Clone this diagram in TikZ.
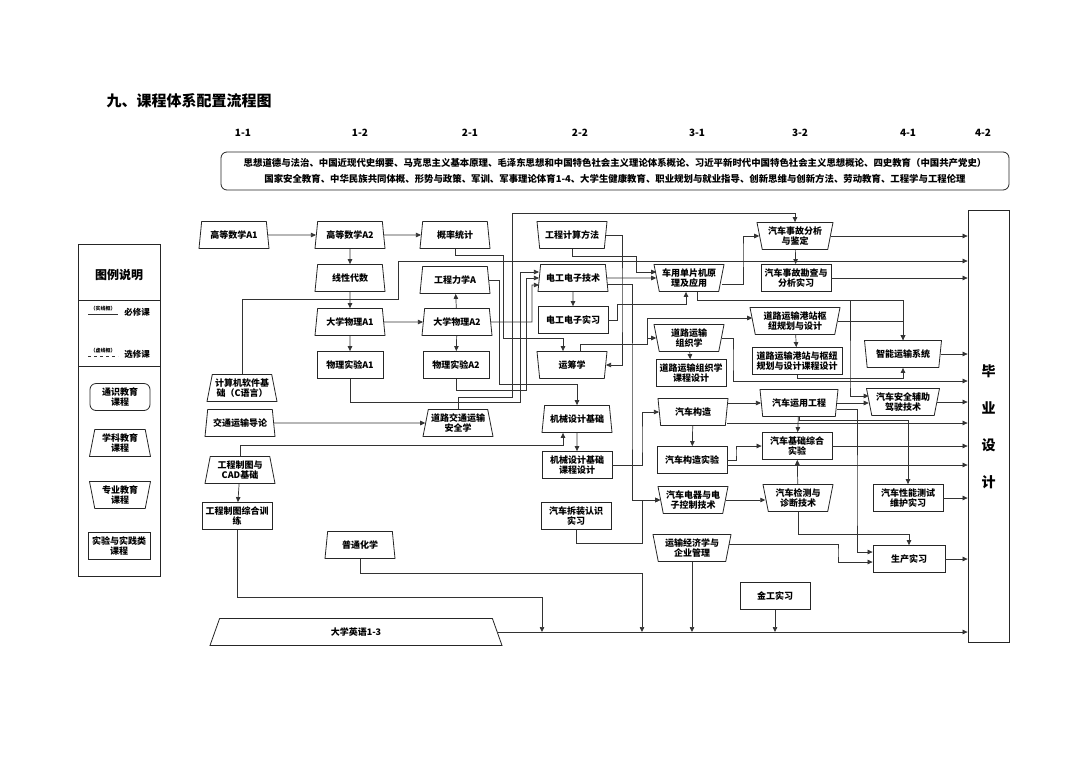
\documentclass[tikz,border=0pt]{standalone}
\usepackage{fontspec}
\setmainfont{Noto Sans CJK SC}
\usetikzlibrary{shapes.geometric,arrows.meta}

\tikzset{
  kc/.style={draw=black!85, line width=0.8pt, align=center, inner sep=1pt,
    font=\fontsize{9}{10.5}\selectfont\bfseries, minimum width=70pt, minimum height=27pt},
  xk/.style={kc, trapezium, trapezium left angle=76, trapezium right angle=76, trapezium stretches body},
  zy/.style={kc, trapezium, trapezium left angle=104, trapezium right angle=104, trapezium stretches body},
  sy/.style={kc, rectangle},
  lx/.style={draw=black!80, line width=0.7pt},
  jt/.style={lx, -{Triangle[length=5pt,width=4.5pt]}},
}

\begin{document}
\begin{tikzpicture}[x=1pt,y=-1pt]
  \fill[white] (0,0) rectangle (1080,756);
  \useasboundingbox (0,0) rectangle (1080,756);

  \node[anchor=west, font=\fontsize{15}{15}\selectfont\bfseries] (bt) at (103,101) {九、课程体系配置流程图};
  \foreach \x/\t [count=\i] in {243/1-1, 360/1-2, 470/2-1, 580/2-2, 697/3-1, 800/3-2, 908/4-1, 983/4-2}
    \node[font=\fontsize{10}{10}\selectfont\bfseries] (xq\i) at (\x,133) {\t};
  \node[draw=black!85, line width=0.8pt, rounded corners=6pt, minimum width=788pt, minimum height=38pt,
    align=center, font=\fontsize{9.4}{16}\selectfont\bfseries] (szk) at (615,171)
    {思想道德与法治、中国近现代史纲要、马克思主义基本原理、毛泽东思想和中国特色社会主义理论体系概论、习近平新时代中国特色社会主义思想概论、四史教育（中国共产党史）\\
     国家安全教育、中华民族共同体概、形势与政策、军训、军事理论体育1-4、大学生健康教育、职业规划与就业指导、创新思维与创新方法、劳动教育、工程学与工程伦理};

  % legend
  \draw[draw=black!85, line width=0.8pt] (78,244) rectangle (160,576);
  \draw[draw=black!85, line width=0.8pt] (78,300) -- (160,300) (78,366) -- (160,366);
  \node[font=\fontsize{12}{12}\selectfont\bfseries] (tl) at (119,275) {图例说明};
  \node[font=\fontsize{5}{5}\selectfont\bfseries] (sx) at (103,309) {（实线框）};
  \draw[lx] (88,314) -- (118,314);
  \node[font=\fontsize{8.5}{8.5}\selectfont\bfseries] (bx) at (137,312) {必修课};
  \node[font=\fontsize{5}{5}\selectfont\bfseries] (xx) at (103,351) {（虚线框）};
  \draw[lx, dashed] (88,356) -- (118,356);
  \node[font=\fontsize{8.5}{8.5}\selectfont\bfseries] (xu) at (137,354) {选修课};
  \node[kc, rectangle, rounded corners=6pt, minimum width=60pt] (tsjy) at (120,397) {通识教育\\课程};
  \node[xk, minimum width=61pt] (xkjy) at (120,443) {学科教育\\课程};
  \node[zy, minimum width=61pt] (zyjy) at (120,495) {专业教育\\课程};
  \node[sy, minimum width=62pt] (syjy) at (119,546) {实验与实践类\\课程};

  % courses
  \node[xk] (gsA1) at (234,235) {高等数学A1};
  \node[xk] (gsA2) at (350,235) {高等数学A2};
  \node[xk] (gltj) at (455,235) {概率统计};
  \node[xk] (xxds) at (350,278) {线性代数};
  \node[xk] (gclx) at (455,280) {工程力学A};
  \node[xk] (dwA1) at (350,322) {大学物理A1};
  \node[xk] (dwA2) at (457,322) {大学物理A2};
  \node[sy, minimum width=66pt] (wsA1) at (350,365) {物理实验A1};
  \node[sy, minimum width=66pt] (wsA2) at (456,365) {物理实验A2};
  \node[xk] (jsj) at (242,388) {计算机软件基\\础（C语言）};
  \node[xk] (jtdl) at (240,423) {交通运输导论};
  \node[xk] (aqx) at (458,423) {道路交通运输\\安全学};
  \node[xk] (gctu) at (240,470) {工程制图与\\CAD基础};
  \node[sy] (gcxl) at (237,516) {工程制图综合训\\练};
  \node[xk] (pthx) at (360,545) {普通化学};
  \node[kc, trapezium, trapezium left angle=48, trapezium right angle=48, trapezium stretches body,
    minimum width=292pt] (dxyy) at (356,632) {大学英语1-3};

  \node[zy] (gcjs) at (572,235) {工程计算方法};
  \node[xk] (dgjs) at (573,278) {电工电子技术};
  \node[sy] (dgsx) at (573,320) {电工电子实习};
  \node[zy] (ycx) at (572,365) {运筹学};
  \node[xk] (jxsj) at (577,419) {机械设计基础};
  \node[sy] (jxkc) at (577,465) {机械设计基础\\课程设计};
  \node[sy] (cjsx) at (576,516) {汽车拆装认识\\实习};
  \node[zy] (dpj) at (689,278) {车用单片机原\\理及应用};
  \node[zy] (zzx) at (689,338) {道路运输\\组织学};
  \node[sy] (zzkc) at (691,373) {道路运输组织学\\课程设计};
  \node[zy] (qcgz) at (693,412) {汽车构造};
  \node[sy] (gzsy) at (692,460) {汽车构造实验};
  \node[zy] (dqjs) at (693,500) {汽车电器与电\\子控制技术};
  \node[zy, minimum width=78pt] (ysjj) at (692,548) {运输经济学与\\企业管理};
  \node[sy] (jgsx) at (775,596) {金工实习};
  \node[zy, minimum width=76pt] (sgfx) at (795,236) {汽车事故分析\\与鉴定};
  \node[sy] (sgkc) at (796,278) {汽车事故勘查与\\分析实习};
  \node[zy, minimum width=90pt] (gzsn) at (795,321) {道路运输港站枢\\纽规划与设计};
  \node[sy, minimum width=90pt] (gzkc) at (797,361) {道路运输港站与枢纽\\规划与设计课程设计};
  \node[zy, minimum width=77pt] (znys) at (903,354) {智能运输系统};
  \node[zy, minimum width=73pt] (aqfz) at (903,402) {汽车安全辅助\\驾驶技术};
  \node[zy, minimum width=78pt] (yygc) at (799,403) {汽车运用工程};
  \node[sy] (jczh) at (797,446) {汽车基础综合\\实验};
  \node[zy] (jczd) at (798,498) {汽车检测与\\诊断技术};
  \node[sy] (xncs) at (908,498) {汽车性能测试\\维护实习};
  \node[sy, minimum width=72pt] (scsx) at (909,559) {生产实习};
  \node[draw=black!85, line width=0.8pt, minimum width=41pt, minimum height=432pt] (bysj) at (988.5,426) {};
  \node[align=center, font=\fontsize{14}{37}\selectfont\bfseries] (byzi) at (988.5,427) {毕\\业\\设\\计};

  % connectors
  \draw[jt] (gsA1) -- (gsA2);
  \draw[jt] (gsA2) -- (gltj);
  \draw[jt] (gsA2) -- (xxds);
  \draw[jt] (xxds) -- (dwA1);
  \draw[jt] (dwA1) -- (dwA2);
  \draw[jt] (dwA2) -- (gclx);
  \draw[jt] (dwA1) -- (wsA1);
  \draw[jt] (dwA2) -- (wsA2);
  \draw[jt] (jtdl) -- (aqx);
  \draw[jt] (gctu) -- (gcxl);
  \draw[jt] (jsj.north) |- (398,299) |- (bysj.west |- 0,261);
  \draw[jt] (gltj.south) |- (503,255) -- (503,338) -| ([xshift=-9pt]ycx.north);
  \draw[jt] (gcjs.east) -| (622,300) |- (ycx.east);
  \draw[jt] (gcjs.south) |- (636,256) |- ([yshift=6pt]dpj.west);
  \draw[jt] (dgjs) -- (dpj);
  \draw[jt] (dgjs) -- (dgsx);
  \draw[jt] (dgsx.east) -| (617,304) -| ([xshift=-3pt]dpj.south);
  \draw[jt] ([xshift=8pt]dpj.south) -- ++(0,8) -| (znys.north);
  \draw[jt] ([xshift=8pt]dpj.south) -- ++(0,8) -| (850,380) |- ([yshift=6pt]aqfz.west);
  \draw[jt] ([yshift=-6pt]dpj.east) -| (743,250) |- (sgfx.west);
  \draw[jt] (sgfx) -- (sgkc);
  \draw[jt] (sgfx.east) -- (sgfx.east -| bysj.west);
  \draw[jt] (sgkc.east) -- (sgkc.east -| bysj.west);
  \draw[jt] (aqx.north) |- (512,397) |- (sgfx.north |- 0,213) -- (sgfx.north);
  \draw[jt] (wsA1.south) |- (520,402) |- ([yshift=6pt]dgjs.west);
  \draw[jt] (wsA2.south) |- (526,390) |- (dgjs.west);
  \draw[jt] (dwA2.east) -| (532,285) -- ([yshift=-7pt]dgjs.west);
  \draw[jt] (gclx.east) -| (499,384) -| (jxsj.north);
  \draw[jt] (gctu.north) |- ([xshift=-14pt,yshift=-12pt]jxsj.south) -- ([xshift=-14pt]jxsj.south);
  \draw[jt] (jxsj) -- (jxkc);
  \draw[jt] (jxkc.east) -| (642,440) |- (qcgz.west);
  \draw[jt] (cjsx.south) |- (642,543) |- (dqjs.west);
  \draw[jt] ([yshift=-6pt]dgjs.east) -| (632,400) |- (dqjs.west);
  \draw[jt] ([xshift=8pt]ycx.north) |- (647,344) |- (zzx.west);
  \draw[jt] ([xshift=8pt]ycx.north) |- (647,344) |- ([yshift=3pt]gzsn.west);
  \draw[jt] (zzx) -- (zzkc);
  \draw[jt] (zzx.east) -| (733,360) |- (bysj.west |- 0,381);
  \draw[jt] (gzsn) -- (gzkc);
  \draw[jt] (gzsn.east) -| (znys.north);
  \draw[jt] (gzkc.south) -- ++(0,3) -| (znys.south);
  \draw[jt] (znys.east) -- (znys.east -| bysj.west);
  \draw[jt] (aqfz.east) -- (aqfz.east -| bysj.west);
  \draw[jt] (qcgz) -- (gzsy);
  \draw[jt] (qcgz.east |- yygc.west) -- (yygc.west);
  \coordinate (q1) at ([yshift=-11pt]qcgz.east);
  \draw[jt] (q1) -- (q1 -| bysj.west);
  \draw[jt] (gzsy.east) -| (736,452) |- (jczh.west);
  \coordinate (q2) at ([yshift=-5pt]gzsy.east);
  \draw[jt] (q2) -- (q2 -| bysj.west);
  \draw[jt] (dqjs.east) -- (dqjs.east -| jczd.west);
  \draw[jt] (jczd) -- (jczh);
  \draw[jt] (yygc) -- (jczh);
  \draw[jt] (yygc.south) -- ++(0,3) -| (xncs.north);
  \draw[jt] (yygc.east) -- (yygc.east -| aqfz.west);
  \draw[jt] ([yshift=-6pt]yygc.east) -| (857,500) |- ([yshift=7pt]scsx.west);
  \draw[jt] (jczh.east) -- (jczh.east -| bysj.west);
  \draw[jt] (xncs.east) -- (xncs.east -| bysj.west);
  \draw[jt] (jczd.south) -- ++(0,22) -| (scsx.north);
  \coordinate (e1) at ([yshift=4pt]ysjj.east);
  \draw[jt] (e1) -| (838,552) |- ([yshift=-3pt]scsx.west);
  \draw[jt] (scsx.east) -- (scsx.east -| bysj.west);
  \draw[jt] (dxyy.east) -- (dxyy.east -| bysj.west);
  \coordinate (m1) at (542,632);
  \coordinate (m2) at (642,632);
  \coordinate (m3) at (ysjj.south |- dxyy.east);
  \coordinate (m4) at (jgsx.south |- dxyy.east);
  \draw[jt] (gcxl.south) |- (542,597) -- (m1);
  \draw[jt] (pthx.south) |- (642,573) -- (m2);
  \draw[jt] (ysjj.south) -- (m3);
  \draw[jt] (jgsx.south) -- (m4);
\end{tikzpicture}
\end{document}
